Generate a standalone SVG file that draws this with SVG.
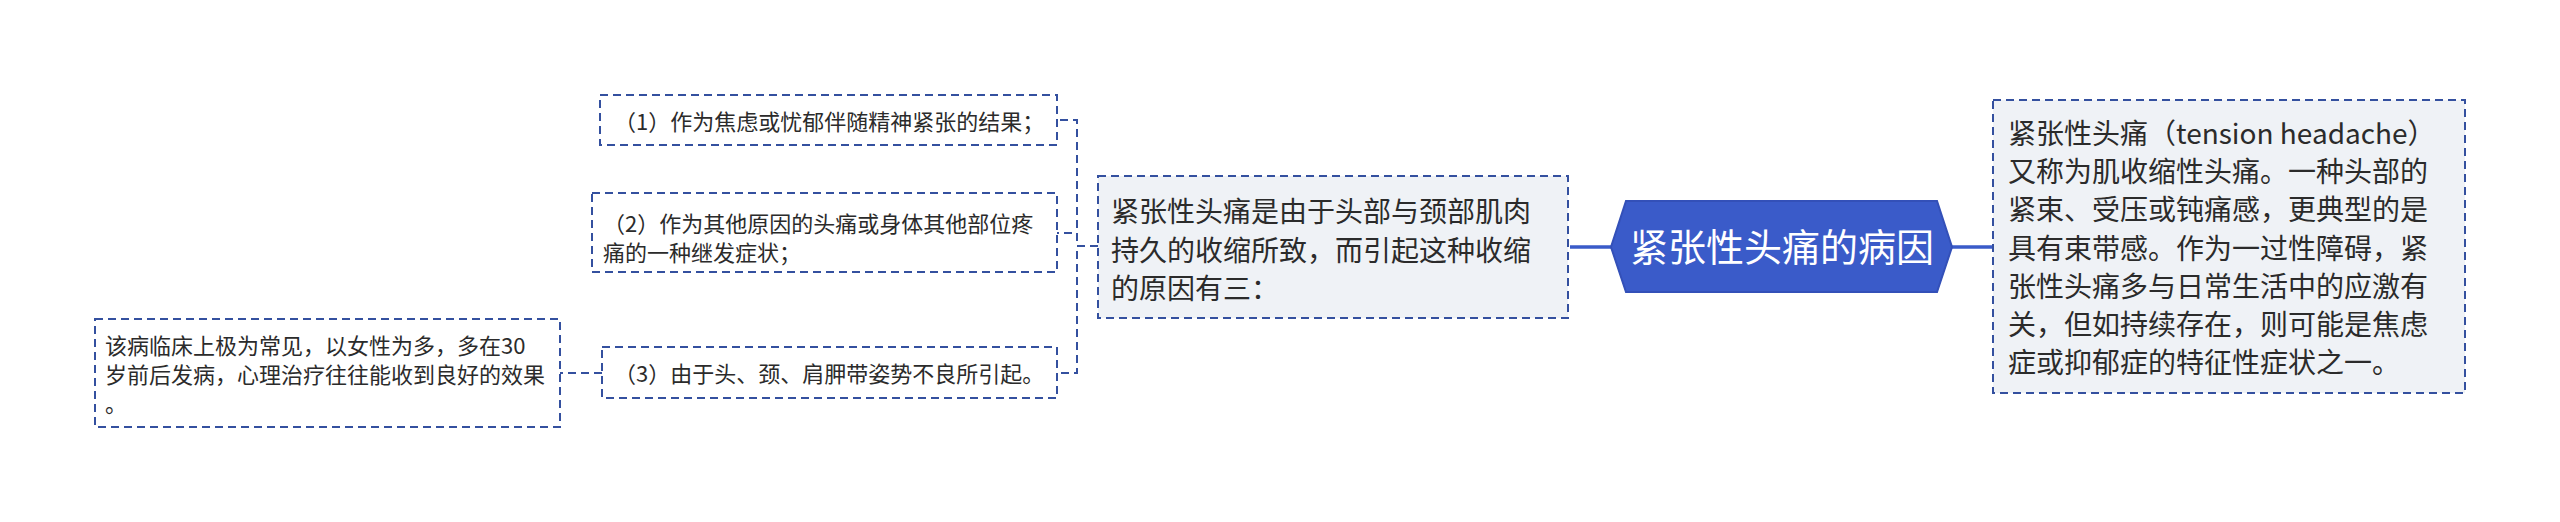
<svg xmlns="http://www.w3.org/2000/svg" width="2560" height="522" viewBox="0 0 2560 522">
<style>
.t{font-family:"Noto Sans CJK SC","Noto Sans",sans-serif;fill:#2b2b2b}
.s{font-size:22px}
.m{font-size:28px}
.c{font-size:38px;fill:#ffffff}
.box{fill:#ffffff;stroke:#34509f;stroke-width:2;stroke-dasharray:8 5}
.gbox{fill:#eff2f6;stroke:#34509f;stroke-width:2;stroke-dasharray:8 5}
.dl{fill:none;stroke:#34509f;stroke-width:2;stroke-dasharray:8 5}
.sl{fill:none;stroke:#3a5bc9;stroke-width:3.5}
</style>
<rect width="2560" height="522" fill="#ffffff"/>
<g id="connectors">
<path class="dl" d="M1098,246 H1077 V120 H1057"/>
<path class="dl" d="M1098,246 H1077 V233 H1057"/>
<path class="dl" d="M1098,246 H1077 V373 H1057"/>
<path class="dl" d="M602,373 H560"/>
<path class="sl" d="M1570,247 H1612"/>
<path class="sl" d="M1951,247 H1993"/>
</g>
<g id="central">
<polygon points="1626,201 1937,201 1952,247 1937,292 1626,292 1611,247" fill="#3a5bc9" stroke="#3350b8" stroke-width="2"/>
<text class="t c" x="1782" y="261" text-anchor="middle">紧张性头痛的病因</text>
</g>
<g id="cause">
<rect class="gbox" x="1098" y="176" width="470" height="142"/>
<text class="t m" x="1111" y="222">紧张性头痛是由于头部与颈部肌肉</text>
<text class="t m" x="1111" y="260.5">持久的收缩所致，而引起这种收缩</text>
<text class="t m" x="1111" y="299">的原因有三：</text>
</g>
<g id="definition">
<rect class="gbox" x="1993" y="100" width="472" height="293"/>
<text class="t m" x="2008" y="144">紧张性头痛（tension headache）</text>
<text class="t m" x="2008" y="182.2">又称为肌收缩性头痛。一种头部的</text>
<text class="t m" x="2008" y="220.4">紧束、受压或钝痛感，更典型的是</text>
<text class="t m" x="2008" y="258.6">具有束带感。作为一过性障碍，紧</text>
<text class="t m" x="2008" y="296.8">张性头痛多与日常生活中的应激有</text>
<text class="t m" x="2008" y="335">关，但如持续存在，则可能是焦虑</text>
<text class="t m" x="2008" y="373.2">症或抑郁症的特征性症状之一。</text>
</g>
<g id="cause1">
<rect class="box" x="600" y="95" width="457" height="50"/>
<text class="t s" x="614" y="129.5">（1）作为焦虑或忧郁伴随精神紧张的结果；</text>
</g>
<g id="cause2">
<rect class="box" x="592" y="193" width="465" height="79"/>
<text class="t s" x="603" y="232">（2）作为其他原因的头痛或身体其他部位疼</text>
<text class="t s" x="603" y="261">痛的一种继发症状；</text>
</g>
<g id="cause3">
<rect class="box" x="602" y="347" width="455" height="51"/>
<text class="t s" x="614" y="382">（3）由于头、颈、肩胛带姿势不良所引起。</text>
</g>
<g id="note">
<rect class="box" x="95" y="319" width="465" height="108"/>
<text class="t s" x="105" y="353.5">该病临床上极为常见，以女性为多，多在30</text>
<text class="t s" x="105" y="382.5">岁前后发病，心理治疗往往能收到良好的效果</text>
<text class="t s" x="105" y="411.5">。</text>
</g>
</svg>
